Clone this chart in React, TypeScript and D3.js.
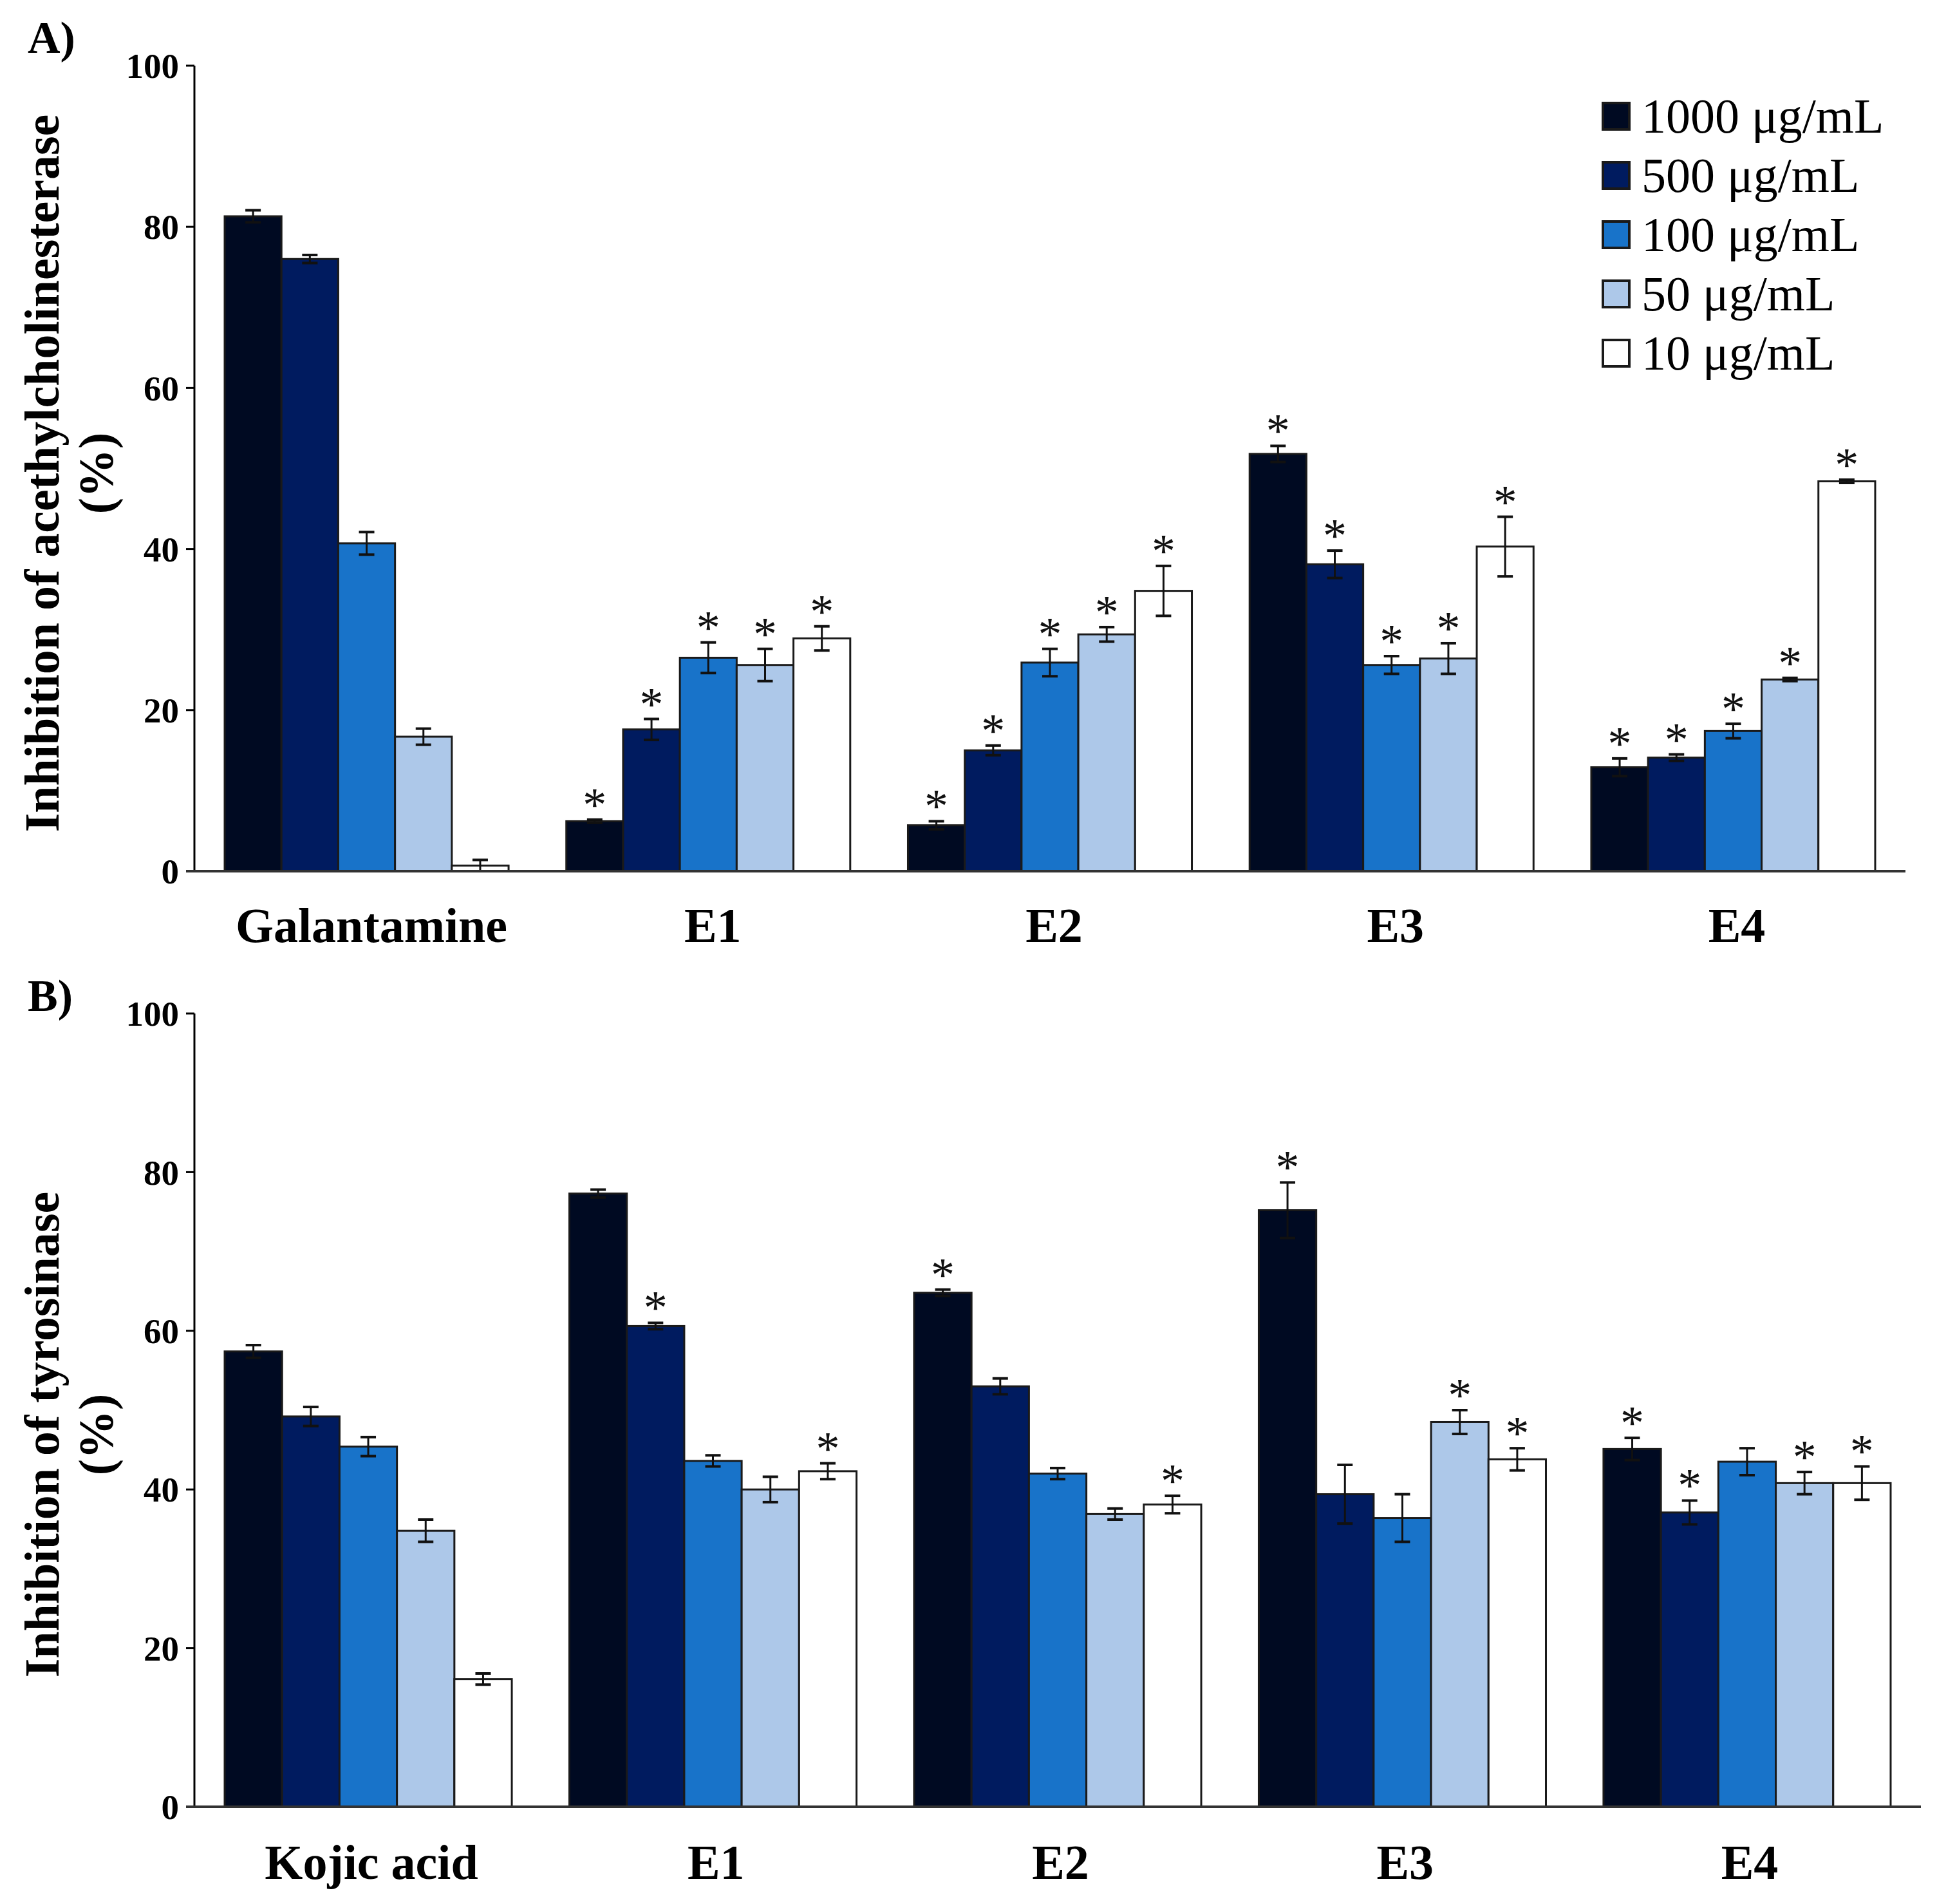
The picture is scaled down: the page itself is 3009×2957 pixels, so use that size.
import * as d3 from "d3";

const W = 3009, H = 2957;
const FONT = "'Liberation Serif', 'Times New Roman', serif";

const concentrations = ["1000 μg/mL", "500 μg/mL", "100 μg/mL", "50 μg/mL", "10 μg/mL"];
const barColors = ["#000a22", "#001b5f", "#1873c9", "#adc8e9", "#ffffff"];
const yTicks = [0, 20, 40, 60, 80, 100];

// A) acetylcholinesterase inhibition (%)
const acheGroups = ["Galantamine", "E1", "E2", "E3", "E4"];
const acheMeans = [
  [81.3, 76.0, 40.7, 16.7, 0.7],
  [6.2, 17.6, 26.5, 25.6, 28.9],
  [5.7, 15.0, 25.9, 29.4, 34.8],
  [51.8, 38.1, 25.6, 26.4, 40.3],
  [12.9, 14.1, 17.4, 23.8, 48.4],
];
const acheErrors = [
  [0.75, 0.5, 1.4, 1.0, 0.7],
  [0.2, 1.3, 1.9, 2.0, 1.5],
  [0.5, 0.6, 1.7, 0.9, 3.1],
  [1.0, 1.7, 1.1, 1.9, 3.7],
  [1.1, 0.4, 0.9, 0.2, 0.2],
];
const acheSignificant = [
  [0, 0, 0, 0, 0],
  [1, 1, 1, 1, 1],
  [1, 1, 1, 1, 1],
  [1, 1, 1, 1, 1],
  [1, 1, 1, 1, 1],
];

// B) tyrosinase inhibition (%)
const tyrGroups = ["Kojic acid", "E1", "E2", "E3", "E4"];
const tyrMeans = [
  [57.4, 49.2, 45.4, 34.8, 16.1],
  [77.3, 60.6, 43.6, 40.0, 42.3],
  [64.8, 53.0, 42.0, 36.9, 38.1],
  [75.2, 39.4, 36.4, 48.5, 43.8],
  [45.1, 37.1, 43.5, 40.8, 40.8],
];
const tyrErrors = [
  [0.8, 1.2, 1.2, 1.4, 0.7],
  [0.5, 0.4, 0.7, 1.6, 1.0],
  [0.4, 1.0, 0.7, 0.7, 1.1],
  [3.5, 3.7, 3.0, 1.5, 1.4],
  [1.4, 1.5, 1.7, 1.4, 2.1],
];
const tyrSignificant = [
  [0, 0, 0, 0, 0],
  [0, 1, 0, 0, 1],
  [1, 0, 0, 0, 1],
  [1, 0, 0, 1, 1],
  [1, 1, 0, 1, 1],
];

type PanelProps = {
  tag: string; tagY: number;
  groups: string[]; means: number[][]; errors: number[][]; sig: number[][];
  yTop: number; yBottom: number;
  xRange: [number, number]; inner: number; outer: number;
  labelRange: [number, number]; labelY: number;
  title: string; titleCenter: number;
};

function Panel(p: PanelProps) {
  const axisX = p.xRange[0];
  const y = d3.scaleLinear([0, 100], [p.yBottom, p.yTop]);
  const x = d3.scaleBand(p.groups, p.xRange).paddingInner(p.inner).paddingOuter(p.outer);
  const xs = d3.scaleBand(d3.range(concentrations.length), [0, x.bandwidth()]);
  const xl = d3.scalePoint(p.groups, p.labelRange);
  const cap = 12;
  return (
    <g>
      <text x={43} y={p.tagY} fontFamily={FONT} fontWeight="bold" fontSize={70}>{p.tag}</text>
      {/* y title */}
      <g transform={`translate(91,${p.titleCenter}) rotate(-90)`}>
        <text textAnchor="middle" fontFamily={FONT} fontWeight="bold" fontSize={76}>{p.title}</text>
      </g>
      <g transform={`translate(175,${p.titleCenter}) rotate(-90)`}>
        <text textAnchor="middle" fontFamily={FONT} fontWeight="bold" fontSize={76}>(%)</text>
      </g>
      {/* bars */}
      {p.groups.map((g, gi) => (
        <g key={g} transform={`translate(${x(g)},0)`}>
          {p.means[gi].map((v, si) => {
            const bx = xs(si)!, bw = xs.bandwidth(), cx = bx + bw / 2;
            const top = y(v + p.errors[gi][si]), bot = y(Math.max(0, v - p.errors[gi][si]));
            return (
              <g key={si}>
                <rect x={bx} y={y(v)} width={bw} height={y(0) - y(v)}
                  fill={barColors[si]} stroke="#1a1a1a" strokeWidth={3} />
                <line x1={cx} x2={cx} y1={top} y2={bot} stroke="#111" strokeWidth={3} />
                <line x1={cx - cap} x2={cx + cap} y1={top} y2={top} stroke="#111" strokeWidth={4} />
                <line x1={cx - cap} x2={cx + cap} y1={bot} y2={bot} stroke="#111" strokeWidth={4} />
                {p.sig[gi][si] ? (
                  <text x={cx} y={top + 2} textAnchor="middle" fontFamily={FONT} fontSize={74} fill="#111">*</text>
                ) : null}
              </g>
            );
          })}
        </g>
      ))}
      {/* y axis */}
      <line x1={axisX} x2={axisX} y1={p.yTop} y2={p.yBottom} stroke="#000" strokeWidth={3} />
      {yTicks.map((t) => (
        <g key={t} transform={`translate(0,${y(t)})`}>
          <line x1={axisX - 13} x2={axisX} stroke="#000" strokeWidth={3} />
          <text x={axisX - 24} dy="0.35em" textAnchor="end" fontFamily={FONT} fontWeight="bold" fontSize={55}>{t}</text>
        </g>
      ))}
      {/* baseline */}
      <line x1={axisX - 13} x2={p.xRange[1]} y1={y(0)} y2={y(0)} stroke="#333" strokeWidth={4} />
      {p.groups.map((g) => (
        <text key={g} x={xl(g)} y={p.labelY} textAnchor="middle" fontFamily={FONT} fontWeight="bold" fontSize={76}>{g}</text>
      ))}
    </g>
  );
}

function Legend() {
  const ly = d3.scalePoint(d3.range(concentrations.length), [180, 548]);
  return (
    <g>
      {concentrations.map((c, i) => (
        <g key={c} transform={`translate(2490,${ly(i)})`}>
          <rect x={0} y={-20} width={41} height={41} fill={barColors[i]} stroke="#1a1a1a" strokeWidth={4} />
          <text x={60} dy="0.34em" fontFamily={FONT} fontSize={76}>{c}</text>
        </g>
      ))}
    </g>
  );
}

export default function App() {
  return (
    <svg width={W} height={H} viewBox={`0 0 ${W} ${H}`}
      style={{ position: "absolute", left: 0, top: 0, background: "#fff" }}>
      <rect width={W} height={H} fill="#fff" />
      <Panel tag="A)" tagY={82} groups={acheGroups} means={acheMeans} errors={acheErrors} sig={acheSignificant}
        yTop={102} yBottom={1353} xRange={[302, 2960]} inner={0.169} outer={0.0886}
        labelRange={[577, 2698]} labelY={1463} title="Inhibition of acethylcholinesterase" titleCenter={735} />
      <Panel tag="B)" tagY={1570} groups={tyrGroups} means={tyrMeans} errors={tyrErrors} sig={tyrSignificant}
        yTop={1574} yBottom={2806} xRange={[302, 2984]} inner={0.167} outer={0.0878}
        labelRange={[577, 2718]} labelY={2918} title="Inhibition of tyrosinase" titleCenter={2228} />
      <Legend />
    </svg>
  );
}
